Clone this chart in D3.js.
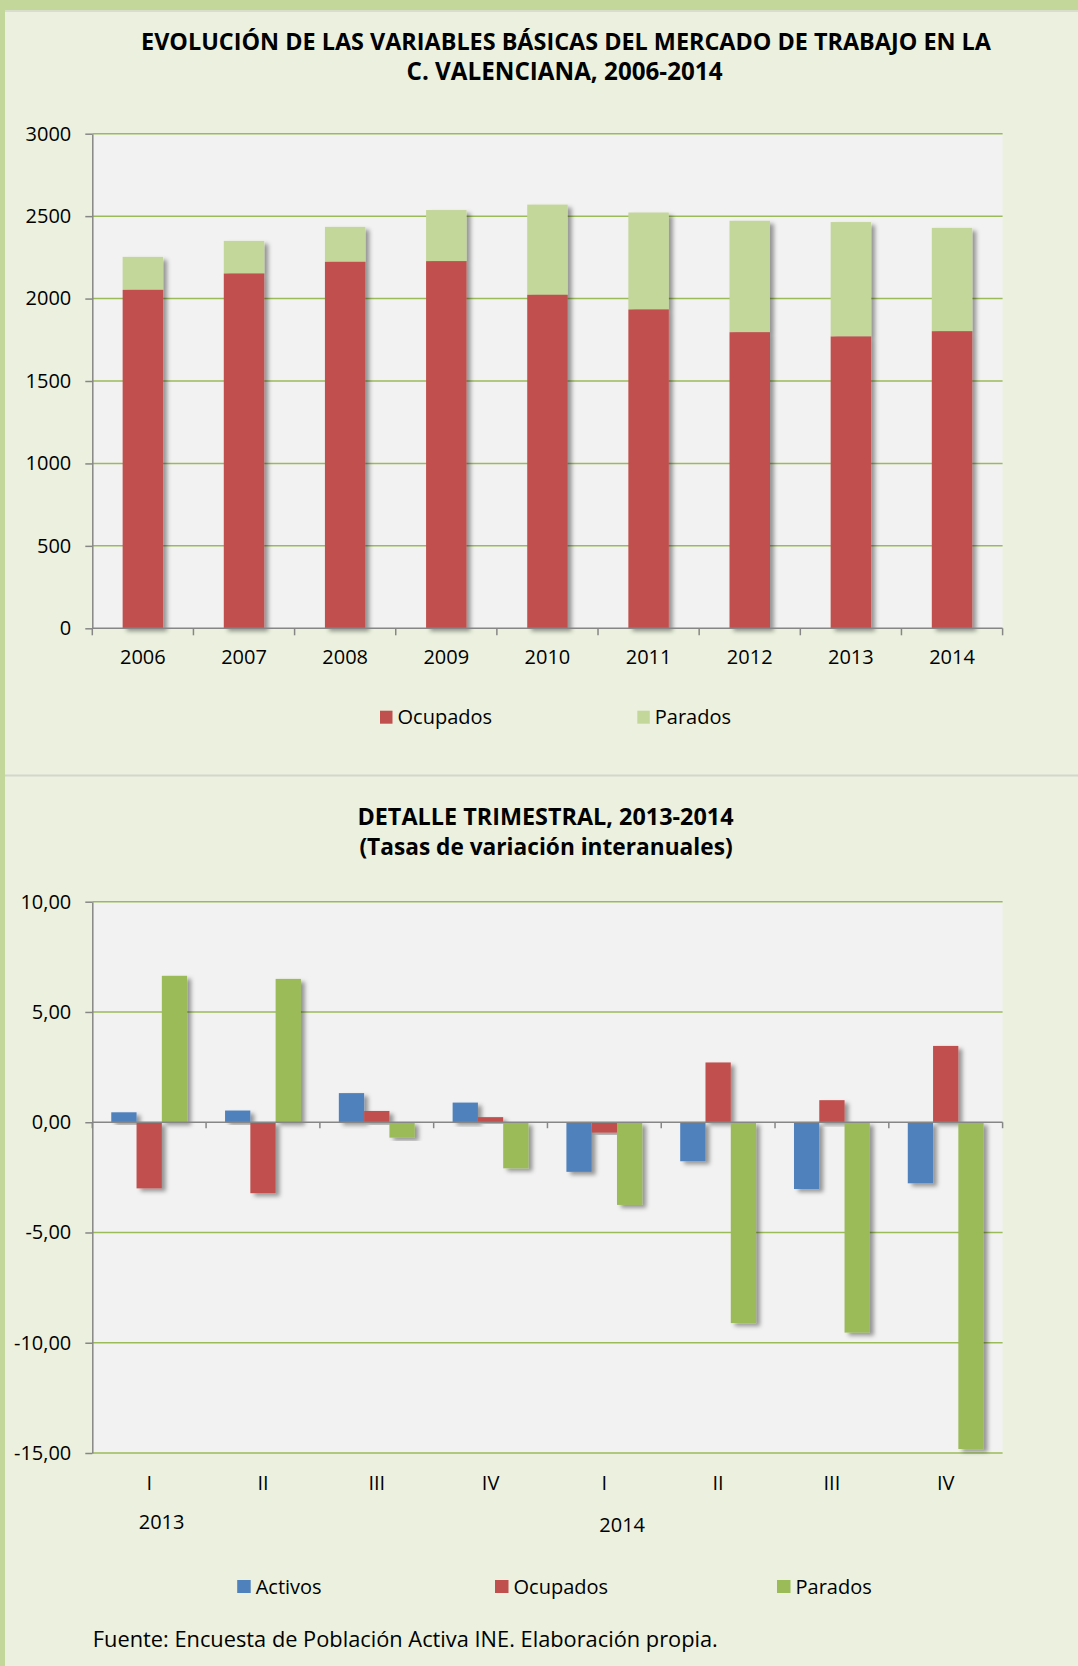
<!DOCTYPE html>
<html>
<head>
<meta charset="utf-8">
<script src="https://cdn.jsdelivr.net/npm/d3@7"></script>
<style>
  body { margin: 0; background: #ebf1de; }
  text { font-family: "Open Sans", sans-serif; fill: #000; }
</style>
</head>
<body>
<svg id="chart" width="1078" height="1666"></svg>
<script>

/**********************
***** DATA *****
**********************/

// annual series (thousands of people)
const years = ["2006", "2007", "2008", "2009", "2010", "2011", "2012", "2013", "2014"];
const ocupadosAnual = [2053, 2152, 2223, 2227, 2023, 1934, 1796, 1770, 1802];
const paradosAnual = [200, 198, 212, 310, 547, 588, 676, 694, 627];
const yTicksAnual = [0, 500, 1000, 1500, 2000, 2500, 3000];

// quarterly year-on-year rates (%)
const periodos = ["2013-I", "2013-II", "2013-III", "2013-IV", "2014-I", "2014-II", "2014-III", "2014-IV"];
const trimestres = ["I", "II", "III", "IV", "I", "II", "III", "IV"];
const activosTrim = [0.45, 0.53, 1.32, 0.89, -2.25, -1.77, -3.03, -2.77];
const ocupadosTrim = [-3.00, -3.22, 0.51, 0.23, -0.47, 2.71, 1.00, 3.46];
const paradosTrim = [6.64, 6.50, -0.70, -2.09, -3.75, -9.11, -9.54, -14.82];
const yTicksTrim = [-15, -10, -5, 0, 5, 10];

const COLORS = {
    ocupados: "#c0504d",
    paradosLight: "#c4d79b",
    activos: "#4f81bd",
    parados: "#9bbb59",
    grid: "#9bbb59",
    axis: "#868686",
    plotBg: "#f2f2f2"
};

const LABEL_SIZE = 20;

const svg = d3.select("#chart");

/**********************
***** PAGE FRAME *****
**********************/

svg.append("rect").attr("x", 0).attr("y", 0).attr("width", 1078).attr("height", 10)
    .attr("fill", "#c4d79b");
svg.append("line").attr("x1", 5).attr("x2", 1078).attr("y1", 11).attr("y2", 11)
    .attr("stroke", "#d9ddcc").attr("stroke-width", 2);
svg.append("rect").attr("x", 0).attr("y", 0).attr("width", 5).attr("height", 1666)
    .attr("fill", "#c4d79b");
svg.append("line").attr("x1", 5).attr("x2", 1078).attr("y1", 775.5).attr("y2", 775.5)
    .attr("stroke", "#d3d6cb").attr("stroke-width", 2);

// bar shadow
const defs = svg.append("defs");
defs.append("filter")
    .attr("id", "shadow")
    .attr("x", "-50%").attr("y", "-10%").attr("width", "200%").attr("height", "130%")
    .append("feDropShadow")
    .attr("dx", 4).attr("dy", 3)
    .attr("stdDeviation", 2.2)
    .attr("flood-color", "#000")
    .attr("flood-opacity", 0.38);

/*****************************
***** CHART 1: ANNUAL *****
*****************************/

const plot1 = {left: 92.3, right: 1002.6, top: 133.7, bottom: 628.3};

const x1 = d3.scaleBand()
    .domain(years)
    .range([plot1.left, plot1.right])
    .paddingInner(0.6)
    .paddingOuter(0.3);

const y1 = d3.scaleLinear()
    .domain([0, 3000])
    .range([plot1.bottom, plot1.top]);

svg.append("rect")
    .attr("x", plot1.left).attr("y", plot1.top)
    .attr("width", plot1.right - plot1.left).attr("height", plot1.bottom - plot1.top)
    .attr("fill", COLORS.plotBg);

// grid
svg.append("g")
    .selectAll("line")
    .data(yTicksAnual.filter(d => d > 0))
    .join("line")
    .attr("x1", plot1.left).attr("x2", plot1.right)
    .attr("y1", d => y1(d)).attr("y2", d => y1(d))
    .attr("stroke", COLORS.grid).attr("stroke-width", 1.5);

// stacked bars
const annual = years.map((yr, i) => ({year: yr, ocupados: ocupadosAnual[i], parados: paradosAnual[i]}));

const barGroups = svg.append("g")
    .selectAll("g")
    .data(annual)
    .join("g")
    .attr("filter", "url(#shadow)");

barGroups.append("rect")
    .attr("x", d => x1(d.year))
    .attr("width", x1.bandwidth())
    .attr("y", d => y1(d.ocupados + d.parados))
    .attr("height", d => y1(d.ocupados) - y1(d.ocupados + d.parados))
    .attr("fill", COLORS.paradosLight);

barGroups.append("rect")
    .attr("x", d => x1(d.year))
    .attr("width", x1.bandwidth())
    .attr("y", d => y1(d.ocupados))
    .attr("height", d => y1(0) - y1(d.ocupados))
    .attr("fill", COLORS.ocupados);

// y axis
const yAxis1 = svg.append("g")
    .attr("transform", `translate(${plot1.left},0)`)
    .call(d3.axisLeft(y1).tickValues(yTicksAnual).tickSize(7).tickSizeOuter(0).tickPadding(14)
        .tickFormat(d3.format("d")));
yAxis1.select(".domain").attr("stroke", COLORS.axis).attr("stroke-width", 1.5);
yAxis1.selectAll(".tick line").attr("stroke", COLORS.axis).attr("stroke-width", 1.5);
yAxis1.selectAll(".tick text").attr("font-size", LABEL_SIZE).attr("font-family", "Open Sans").attr("fill", "#000");

// x axis (ticks between categories)
const step1 = x1.step();
svg.append("line")
    .attr("x1", plot1.left).attr("x2", plot1.right)
    .attr("y1", y1(0)).attr("y2", y1(0))
    .attr("stroke", COLORS.axis).attr("stroke-width", 1.5);
svg.append("g")
    .selectAll("line")
    .data(d3.range(years.length + 1))
    .join("line")
    .attr("x1", i => plot1.left + i * step1).attr("x2", i => plot1.left + i * step1)
    .attr("y1", y1(0)).attr("y2", y1(0) + 7)
    .attr("stroke", COLORS.axis).attr("stroke-width", 1.5);
svg.append("g")
    .selectAll("text")
    .data(years)
    .join("text")
    .attr("x", d => x1(d) + x1.bandwidth() / 2)
    .attr("y", 663.5)
    .attr("text-anchor", "middle")
    .attr("font-size", LABEL_SIZE)
    .text(d => d);

// title
const title1 = svg.append("g").attr("font-weight", "bold");
title1.append("text").attr("x", 566).attr("y", 49.5).attr("text-anchor", "middle")
    .attr("font-weight", "bold").attr("font-size", 23.4)
    .text("EVOLUCIÓN DE LAS VARIABLES BÁSICAS DEL MERCADO DE TRABAJO EN LA");
title1.append("text").attr("x", 564.5).attr("y", 79.5).attr("text-anchor", "middle")
    .attr("font-weight", "bold").attr("font-size", 24.2)
    .text("C. VALENCIANA, 2006-2014");

// legend
const legend1 = [
    {label: "Ocupados", color: COLORS.ocupados, x: 380},
    {label: "Parados", color: COLORS.paradosLight, x: 637.3}
];
const lg1 = svg.append("g").selectAll("g").data(legend1).join("g");
lg1.append("rect").attr("x", d => d.x).attr("y", 710.7).attr("width", 12.5).attr("height", 13)
    .attr("fill", d => d.color);
lg1.append("text").attr("x", d => d.x + 17.5).attr("y", 724).attr("font-size", LABEL_SIZE)
    .text(d => d.label);

/*********************************
***** CHART 2: QUARTERLY *****
*********************************/

const plot2 = {left: 92.3, right: 1002.6, top: 901.7, bottom: 1453};

const x2 = d3.scaleBand()
    .domain(periodos)
    .range([plot2.left, plot2.right])
    .paddingInner(1 / 3)
    .paddingOuter(1 / 6);

const series = [
    {key: "Activos", values: activosTrim, color: COLORS.activos},
    {key: "Ocupados", values: ocupadosTrim, color: COLORS.ocupados},
    {key: "Parados", values: paradosTrim, color: COLORS.parados}
];

const xInner = d3.scaleBand()
    .domain(series.map(s => s.key))
    .range([0, x2.bandwidth()]);

const y2 = d3.scaleLinear()
    .domain([-15, 10])
    .range([plot2.bottom, plot2.top]);

svg.append("rect")
    .attr("x", plot2.left).attr("y", plot2.top)
    .attr("width", plot2.right - plot2.left).attr("height", plot2.bottom - plot2.top)
    .attr("fill", COLORS.plotBg);

svg.append("g")
    .selectAll("line")
    .data(yTicksTrim.filter(d => d !== 0))
    .join("line")
    .attr("x1", plot2.left).attr("x2", plot2.right)
    .attr("y1", d => y2(d)).attr("y2", d => y2(d))
    .attr("stroke", COLORS.grid).attr("stroke-width", 1.5);

// bars, one series after another
series.forEach(s => {
    svg.append("g")
        .selectAll("rect")
        .data(periodos.map((p, i) => ({periodo: p, value: s.values[i]})))
        .join("rect")
        .attr("x", d => x2(d.periodo) + xInner(s.key))
        .attr("width", xInner.bandwidth())
        .attr("y", d => y2(Math.max(0, d.value)))
        .attr("height", d => Math.abs(y2(d.value) - y2(0)))
        .attr("fill", s.color)
        .attr("filter", "url(#shadow)");
});

const esLocale = d3.formatLocale({decimal: ",", thousands: ".", grouping: [3], currency: ["", "€"], minus: "-"});

const yAxis2 = svg.append("g")
    .attr("transform", `translate(${plot2.left},0)`)
    .call(d3.axisLeft(y2).tickValues(yTicksTrim).tickSize(7).tickSizeOuter(0).tickPadding(14)
        .tickFormat(esLocale.format(".2f")));
yAxis2.select(".domain").attr("stroke", COLORS.axis).attr("stroke-width", 1.5);
yAxis2.selectAll(".tick line").attr("stroke", COLORS.axis).attr("stroke-width", 1.5);
yAxis2.selectAll(".tick text").attr("font-size", LABEL_SIZE).attr("font-family", "Open Sans").attr("fill", "#000");

// zero axis with ticks between quarters
const step2 = x2.step();
svg.append("line")
    .attr("x1", plot2.left).attr("x2", plot2.right)
    .attr("y1", y2(0)).attr("y2", y2(0))
    .attr("stroke", COLORS.axis).attr("stroke-width", 1.5);
svg.append("g")
    .selectAll("line")
    .data(d3.range(periodos.length + 1))
    .join("line")
    .attr("x1", i => plot2.left + i * step2).attr("x2", i => plot2.left + i * step2)
    .attr("y1", y2(0)).attr("y2", y2(0) + 6)
    .attr("stroke", COLORS.axis).attr("stroke-width", 1.5);

// category labels
svg.append("g")
    .selectAll("text")
    .data(periodos)
    .join("text")
    .attr("x", d => x2(d) + x2.bandwidth() / 2)
    .attr("y", 1489.5)
    .attr("text-anchor", "middle")
    .attr("font-size", LABEL_SIZE)
    .text((d, i) => trimestres[i]);

svg.append("text").attr("x", 161.6).attr("y", 1529).attr("text-anchor", "middle")
    .attr("font-size", LABEL_SIZE).text("2013");
svg.append("text").attr("x", 622.2).attr("y", 1531.5).attr("text-anchor", "middle")
    .attr("font-size", LABEL_SIZE).text("2014");

// title
const title2 = svg.append("g");
title2.append("text").attr("x", 545.5).attr("y", 825).attr("text-anchor", "middle")
    .attr("font-weight", "bold").attr("font-size", 23.4)
    .text("DETALLE TRIMESTRAL, 2013-2014");
title2.append("text").attr("x", 546).attr("y", 855).attr("text-anchor", "middle")
    .attr("font-weight", "bold").attr("font-size", 22.7)
    .text("(Tasas de variación interanuales)");

// legend
const legend2 = [
    {label: "Activos", color: COLORS.activos, x: 237.2},
    {label: "Ocupados", color: COLORS.ocupados, x: 495},
    {label: "Parados", color: COLORS.parados, x: 777}
];
const lg2 = svg.append("g").selectAll("g").data(legend2).join("g");
lg2.append("rect").attr("x", d => d.x).attr("y", 1580).attr("width", 13.5).attr("height", 13)
    .attr("fill", d => d.color);
lg2.append("text").attr("x", d => d.x + 18.5).attr("y", 1593.5).attr("font-size", LABEL_SIZE)
    .text(d => d.label);

// source
svg.append("text")
    .attr("x", 92.8).attr("y", 1647)
    .attr("font-size", 21.8)
    .text("Fuente: Encuesta de Población Activa INE. Elaboración propia.");

</script>
</body>
</html>
